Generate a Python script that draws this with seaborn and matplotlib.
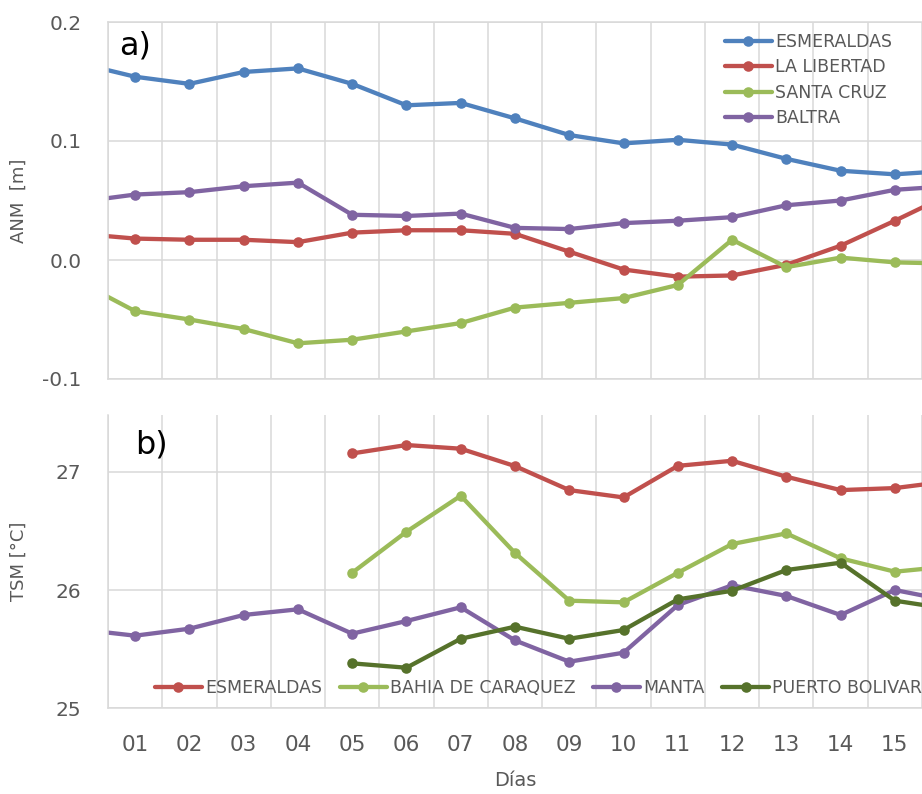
import numpy as np
import pandas as pd
import matplotlib
matplotlib.use("Agg")
import matplotlib.pyplot as plt
from matplotlib.lines import Line2D
import seaborn as sns

# ---- data -------------------------------------------------------------
# day 0 and day 16 lie just outside the visible range (lines run to the edges)
dias = list(range(0, 17))
etiquetas_dias = ["01", "02", "03", "04", "05", "06", "07", "08",
                  "09", "10", "11", "12", "13", "14", "15"]

# a) sea level anomaly [m]
anm_esmeraldas = [0.165, 0.154, 0.148, 0.158, 0.161, 0.148, 0.130, 0.132, 0.119,
                  0.105, 0.098, 0.101, 0.097, 0.085, 0.075, 0.072, 0.075]
anm_la_libertad = [0.022, 0.018, 0.017, 0.017, 0.015, 0.023, 0.025, 0.025, 0.022,
                   0.007, -0.008, -0.014, -0.013, -0.004, 0.012, 0.033, 0.055]
anm_santa_cruz = [-0.019, -0.043, -0.050, -0.058, -0.070, -0.067, -0.060, -0.053, -0.040,
                  -0.036, -0.032, -0.021, 0.017, -0.006, 0.002, -0.002, -0.003]
anm_baltra = [0.049, 0.055, 0.057, 0.062, 0.065, 0.038, 0.037, 0.039, 0.027,
              0.026, 0.031, 0.033, 0.036, 0.046, 0.050, 0.059, 0.062]

# b) sea surface temperature [°C]
nan = np.nan
tsm_esmeraldas = [nan, nan, nan, nan, nan, 27.155, 27.226, 27.195, 27.048,
                  26.845, 26.783, 27.05, 27.093, 26.958, 26.845, 26.862, 26.92]
tsm_bahia = [nan, nan, nan, nan, nan, 26.146, 26.493, 26.797, 26.313,
             25.91, 25.896, 26.146, 26.389, 26.479, 26.268, 26.155, 26.20]
tsm_manta = [25.666, 25.614, 25.673, 25.789, 25.837, 25.631, 25.738, 25.854, 25.574,
             25.394, 25.47, 25.873, 26.04, 25.95, 25.789, 26.0, 25.91]
tsm_puerto_bolivar = [nan, nan, nan, nan, nan, 25.38, 25.343, 25.588, 25.69,
                      25.588, 25.662, 25.921, 25.994, 26.169, 26.231, 25.91, 25.84]

est_a = ["ESMERALDAS", "LA LIBERTAD", "SANTA CRUZ", "BALTRA"]
est_b = ["ESMERALDAS", "BAHIA DE CARAQUEZ", "MANTA", "PUERTO BOLIVAR"]

df_a = pd.concat([pd.DataFrame({"dia": dias, "valor": v, "estacion": n})
                  for n, v in zip(est_a, [anm_esmeraldas, anm_la_libertad,
                                          anm_santa_cruz, anm_baltra])])
df_b = pd.concat([pd.DataFrame({"dia": dias, "valor": v, "estacion": n})
                  for n, v in zip(est_b, [tsm_esmeraldas, tsm_bahia,
                                          tsm_manta, tsm_puerto_bolivar])]).dropna()

pal_a = {"ESMERALDAS": "#4F81BD", "LA LIBERTAD": "#C0504D",
         "SANTA CRUZ": "#9BBB59", "BALTRA": "#8064A2"}
pal_b = {"ESMERALDAS": "#C0504D", "BAHIA DE CARAQUEZ": "#9BBB59",
         "MANTA": "#8064A2", "PUERTO BOLIVAR": "#56722B"}

# ---- style ------------------------------------------------------------
sns.set_style("white")
plt.rcParams["font.family"] = ["DejaVu Sans"]
GRID = "#D9D9D9"
TXT = "#595959"
LW = 3.1
MS = 7.6

W, H = 922, 794
fig = plt.figure(figsize=(W / 100, H / 100), dpi=100)
ax1 = fig.add_axes([108 / W, 1 - 379 / H, (W - 108) / W, (379 - 22) / H])
ax2 = fig.add_axes([108 / W, 1 - 708.3 / H, (W - 108) / W, (708.3 - 415) / H])

line_kw = dict(marker="o", markersize=MS, markeredgewidth=0, linewidth=LW,
               legend=False, sort=True, estimator=None)
sns.lineplot(data=df_a, x="dia", y="valor", hue="estacion", hue_order=est_a,
             palette=pal_a, ax=ax1, **line_kw)
sns.lineplot(data=df_b, x="dia", y="valor", hue="estacion", hue_order=est_b,
             palette=pal_b, ax=ax2, **line_kw)

XMIN, XMAX = 0.5, 15.43
for ax in (ax1, ax2):
    ax.set_xlim(XMIN, XMAX)
    ax.set_xticks(range(1, 16))
    ax.set_xticks(np.arange(0.5, 16, 1.0), minor=True)
    ax.grid(False)
    ax.grid(which="minor", axis="x", color=GRID, linewidth=1.1)
    ax.grid(which="major", axis="y", color=GRID, linewidth=1.1)
    ax.tick_params(axis="both", which="major", length=0, colors=TXT)
    ax.tick_params(axis="y", labelsize=14.5, pad=19)
    ax.spines["right"].set_visible(False)
    for s in ("left", "bottom", "top"):
        ax.spines[s].set_color(GRID)
        ax.spines[s].set_linewidth(1.1)
    ax.set_axisbelow(True)

# a) panel
ax1.set_ylim(-0.1, 0.2)
ax1.set_yticks([-0.1, 0.0, 0.1, 0.2])
ax1.set_yticklabels(["-0.1", "0.0", "0.1", "0.2"])
ax1.tick_params(axis="x", which="both", length=0, labelbottom=False)
ax1.set_xlabel("")
ax1.set_ylabel("ANM  [m]", fontsize=13, color=TXT)
ax1.yaxis.set_label_coords(-0.098, 0.5)
ax1.text(0.014, 0.975, "a)", transform=ax1.transAxes, fontsize=23,
         color="black", ha="left", va="top")

# b) panel
ax2.set_ylim(25, 27.48)
ax2.set_yticks([25, 26, 27])
ax2.spines["top"].set_visible(False)
ax2.set_xticklabels(etiquetas_dias)
ax2.tick_params(axis="x", which="major", labelsize=15.5, pad=19)
ax2.tick_params(axis="x", which="minor", length=6.5, width=1.1, color=GRID,
                direction="out")
ax2.set_xlabel("Días", fontsize=14, color=TXT, labelpad=12)
ax2.set_ylabel("TSM [°C]", fontsize=13, color=TXT)
ax2.yaxis.set_label_coords(-0.098, 0.5)
ax2.text(0.033, 0.95, "b)", transform=ax2.transAxes, fontsize=23,
         color="black", ha="left", va="top")

# legends
def handles(pal, names):
    return [Line2D([], [], color=pal[n], marker="o", markersize=MS,
                   markeredgewidth=0, linewidth=LW) for n in names]

leg1 = ax1.legend(handles(pal_a, est_a), est_a, loc="upper left",
                  bbox_to_anchor=(725 / W, 1 - 33 / H),
                  bbox_transform=fig.transFigure, frameon=False,
                  fontsize=12.5, handlelength=2.7, handletextpad=0.2,
                  labelspacing=0.42, borderpad=0, borderaxespad=0)
for t in leg1.get_texts():
    t.set_color(TXT)

leg2 = ax2.legend(handles(pal_b, est_b), est_b, loc="center left",
                  bbox_to_anchor=(155 / W, 1 - 688 / H),
                  bbox_transform=fig.transFigure, frameon=False, ncol=4,
                  fontsize=12.5, handlelength=2.7, handletextpad=0.2,
                  columnspacing=1.0, borderpad=0, borderaxespad=0)
for t in leg2.get_texts():
    t.set_color(TXT)

fig.savefig("out.png", dpi=100)
